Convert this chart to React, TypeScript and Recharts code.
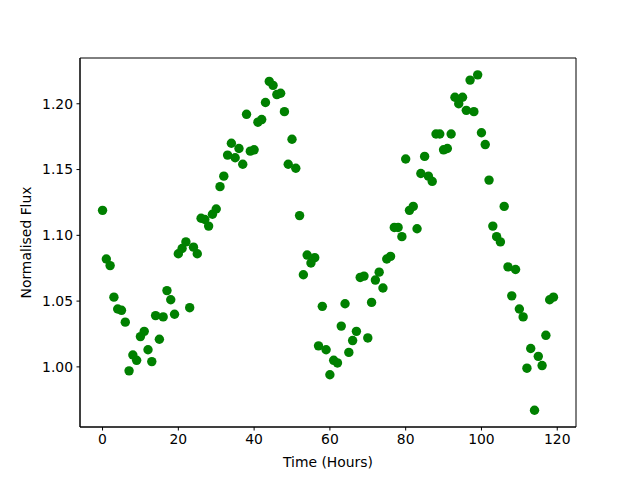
import React from 'react';
import { ScatterChart, Scatter, XAxis, YAxis, ReferenceArea } from 'recharts';

const hours = [
  0, 1, 2, 3, 4, 5, 6, 7, 8, 9, 10, 11, 12, 13, 14, 15, 16, 17, 18, 19,
  20, 21, 22, 23, 24, 25, 26, 27, 28, 29, 30, 31, 32, 33, 34, 35, 36, 37, 38, 39,
  40, 41, 42, 43, 44, 45, 46, 47, 48, 49, 50, 51, 52, 53, 54, 55, 56, 57, 58, 59,
  60, 61, 62, 63, 64, 65, 66, 67, 68, 69, 70, 71, 72, 73, 74, 75, 76, 77, 78, 79,
  80, 81, 82, 83, 84, 85, 86, 87, 88, 89, 90, 91, 92, 93, 94, 95, 96, 97, 98, 99,
  100, 101, 102, 103, 104, 105, 106, 107, 108, 109, 110, 111, 112, 113, 114, 115, 116, 117, 118, 119,
];

const flux = [
  1.119, 1.082, 1.077, 1.053, 1.044, 1.043, 1.034, 0.997, 1.009, 1.005,
  1.023, 1.027, 1.013, 1.004, 1.039, 1.021, 1.038, 1.058, 1.051, 1.040,
  1.086, 1.090, 1.095, 1.045, 1.091, 1.086, 1.113, 1.112, 1.107, 1.116,
  1.120, 1.137, 1.145, 1.161, 1.170, 1.159, 1.166, 1.154, 1.192, 1.164,
  1.165, 1.186, 1.188, 1.201, 1.217, 1.214, 1.207, 1.208, 1.194, 1.154,
  1.173, 1.151, 1.115, 1.070, 1.085, 1.079, 1.083, 1.016, 1.046, 1.013,
  0.994, 1.005, 1.003, 1.031, 1.048, 1.011, 1.020, 1.027, 1.068, 1.069,
  1.022, 1.049, 1.066, 1.072, 1.060, 1.082, 1.084, 1.106, 1.106, 1.099,
  1.158, 1.119, 1.122, 1.105, 1.147, 1.160, 1.145, 1.141, 1.177, 1.177,
  1.165, 1.166, 1.177, 1.205, 1.200, 1.205, 1.195, 1.218, 1.194, 1.222,
  1.178, 1.169, 1.142, 1.107, 1.099, 1.095, 1.122, 1.076, 1.054, 1.074,
  1.044, 1.038, 0.999, 1.014, 0.967, 1.008, 1.001, 1.024, 1.051, 1.053,
];

const xTicks = [0, 20, 40, 60, 80, 100, 120];
const yTicks = [1.0, 1.05, 1.1, 1.15, 1.2];

const points = hours.map((t, i) => ({ t, f: flux[i] }));

const X_DOMAIN: [number, number] = [-5.95, 124.95];
const Y_DOMAIN: [number, number] = [0.9543, 1.2348];

const font = '"DejaVu Sans", sans-serif';
const tickStyle = { fontSize: 13.9, fill: '#000', fontFamily: font };

const Dot = (props: any) => (
  <circle cx={props.cx} cy={props.cy} r={4.7} fill="#008000" />
);

const App: React.FC = () => {
  return (
    <div style={{ position: 'absolute', left: 0, top: 0, width: 640, height: 480, background: '#fff' }}>
      <ScatterChart width={640} height={480} margin={{ top: 58, right: 64, bottom: 0, left: 0 }}>
        <XAxis
          type="number"
          dataKey="t"
          domain={X_DOMAIN}
          allowDataOverflow
          ticks={xTicks}
          height={53}
          stroke="#000"
          tick={tickStyle}
          tickSize={3.5}
          tickMargin={3.5}
          label={{
            content: (p: any) => (
              <text x={328} y={467} textAnchor="middle" fontSize={13.9} fontFamily={font} fill="#000">
                Time (Hours)
              </text>
            ),
          }}
        />
        <YAxis
          type="number"
          dataKey="f"
          domain={Y_DOMAIN}
          allowDataOverflow
          ticks={yTicks}
          width={80}
          stroke="#000"
          tick={tickStyle}
          tickSize={3.5}
          tickMargin={3.5}
          tickFormatter={(v: number) => v.toFixed(2)}
          label={{
            content: (p: any) => (
              <text
                x={31}
                y={242.5}
                transform="rotate(-90 31 242.5)"
                textAnchor="middle"
                fontSize={13.9}
                fontFamily={font}
                fill="#000"
              >
                Normalised Flux
              </text>
            ),
          }}
        />
        <ReferenceArea
          x1={X_DOMAIN[0]}
          x2={X_DOMAIN[1]}
          y1={Y_DOMAIN[0]}
          y2={Y_DOMAIN[1]}
          fill="none"
          stroke="#000"
          strokeWidth={1}
        />
        <Scatter data={points} shape={Dot} isAnimationActive={false} />
      </ScatterChart>
    </div>
  );
};

export default App;
